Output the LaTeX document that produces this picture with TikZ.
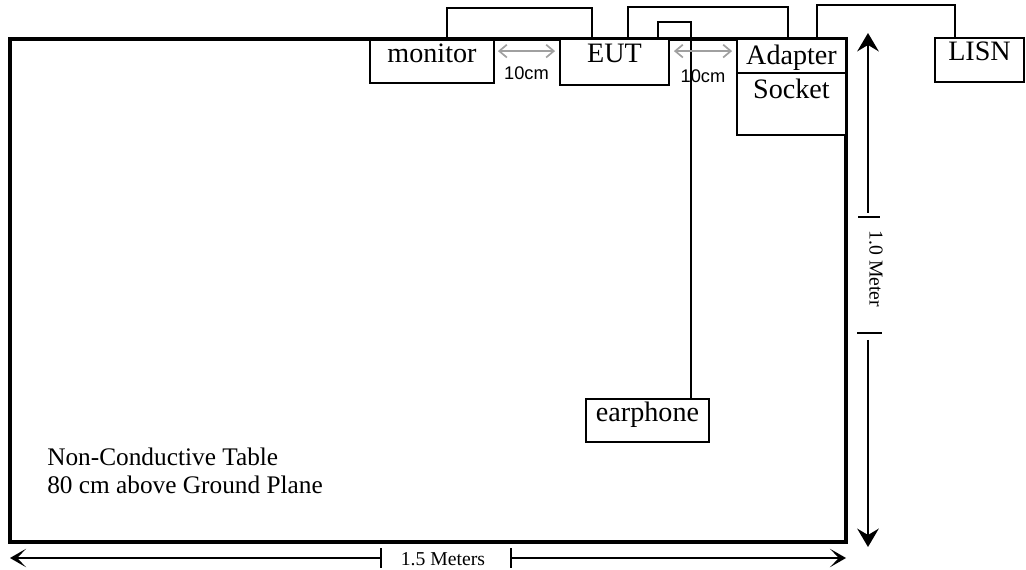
\documentclass[tikz,border=0pt]{standalone}
\usepackage{fontspec}
\setmainfont{Liberation Serif}
\newfontfamily\cmfont{Liberation Sans}
\usetikzlibrary{calc,arrows.meta}
\definecolor{spacegray}{HTML}{A0A0A0}

\begin{document}
\begin{tikzpicture}[
    x=0.025cm, y=-0.025cm,
    device/.style={draw, line width=1.3pt, inner sep=0pt, fill=white,
                   font=\fontsize{20}{22}\selectfont, text height=14pt, text depth=13pt},
    cable/.style={draw, line width=1.1pt},
    spacing/.style={{Straight Barb[length=1.9mm,width=3.2mm]}-{Straight Barb[length=1.9mm,width=3.2mm]},
                    draw=spacegray, line width=1.2pt},
    measure/.style={draw, line width=1.3pt},
    measuretip/.style={measure, -{Stealth[length=4.6mm,width=5.4mm,inset=1.6mm]}},
    measurehtip/.style={measure, -{Stealth[length=4mm,width=4.6mm,inset=2.2mm]}},
    dimtext/.style={font=\fontsize{14}{16}\selectfont, inner sep=0pt}
  ]
    \useasboundingbox (0,0) rectangle (1026,570);

    % table
    \draw[line width=2.4pt] (10,39) rectangle (846,542);
    \node[anchor=north west, align=left, inner sep=0pt, font=\fontsize{18}{19.9}\selectfont]
      (note) at (47,448) {Non-Conductive Table\\80 cm above Ground Plane};

    % devices
    \node[device, minimum width=3.100cm, minimum height=1.075cm] (monitor)  at (432,61.5)  {monitor};
    \node[device, minimum width=2.725cm, minimum height=1.150cm] (eut)      at (614.5,62)  {EUT};
    \node[device, minimum width=2.725cm, minimum height=1.550cm,
          text depth=22pt]                                      (socket)   at (791.5,104) {Socket};
    \node[device, minimum width=2.725cm, minimum height=0.850cm,
          text depth=1.5pt]                                     (adapter)  at (791.5,56)  {Adapter};
    \node[device, minimum width=2.225cm, minimum height=1.100cm] (lisn)     at (979.5,60)  {LISN};
    \node[device, minimum width=3.075cm, minimum height=1.075cm] (earphone) at (647.5,420.5) {earphone};

    % cables
    \draw[cable] ($(monitor.north)+(15,0)$) -- ++(0,-31) -| ($(eut.north)+(-22.5,0)$);
    \draw[cable] ($(eut.north)+(13.5,0)$) -- ++(0,-31) -| ($(adapter.north)+(-3.5,0)$);
    \draw[cable] ($(eut.north)+(43.5,0)$) -- ++(0,-16) -| ($(earphone.north)+(43.5,0)$);
    \draw[cable] ($(adapter.north)+(25.5,0)$) -- ++(0,-33) -| ($(lisn.north)+(-24.5,0)$);

    % 10cm spacing
    \draw[spacing] ($(monitor.north east)+(3,12)$) -- node[midway, below=10.5pt, inner sep=0pt,
      font=\cmfont\fontsize{13}{15}\selectfont] (gapa) {10cm} ($(eut.north west)+(-4,13)$);
    \draw[spacing] ($(eut.north east)+(4,13)$) -- node[midway, below=13pt, inner sep=0pt,
      font=\cmfont\fontsize{13}{15}\selectfont] (gapb) {10cm} ($(adapter.north west)+(-4,13)$);

    % 1.0 Meter
    \coordinate (vtop) at (868,33);
    \coordinate (vbot) at (868,547);
    \coordinate (vup)  at (868,213);
    \coordinate (vlow) at (868,340);
    \node[dimtext, rotate=-90] (vlabel) at (876,269) {1.0 Meter};
    \draw[measuretip] (vup) -- (vtop);
    \draw[measuretip] (vlow) -- (vbot);
    \draw[measure] ($(vup)+(-10,4)$) -- ++(22,0);
    \draw[measure] ($(vlow)+(-11,-7)$) -- ++(25,0);

    % 1.5 Meters
    \coordinate (hleft)  at (10,558);
    \coordinate (hright) at (846,558);
    \coordinate (hl) at (381,558);
    \coordinate (hr) at (511,558);
    \node[dimtext, anchor=base] (hlabel) at (443,565) {1.5 Meters};
    \draw[measurehtip] (hl) -- (hleft);
    \draw[measurehtip] (hr) -- (hright);
    \draw[measure] ($(hl)+(0,-10)$) -- ($(hl)+(0,10)$);
    \draw[measure] ($(hr)+(0,-10)$) -- ($(hr)+(0,10)$);
  \end{tikzpicture}
\end{document}
